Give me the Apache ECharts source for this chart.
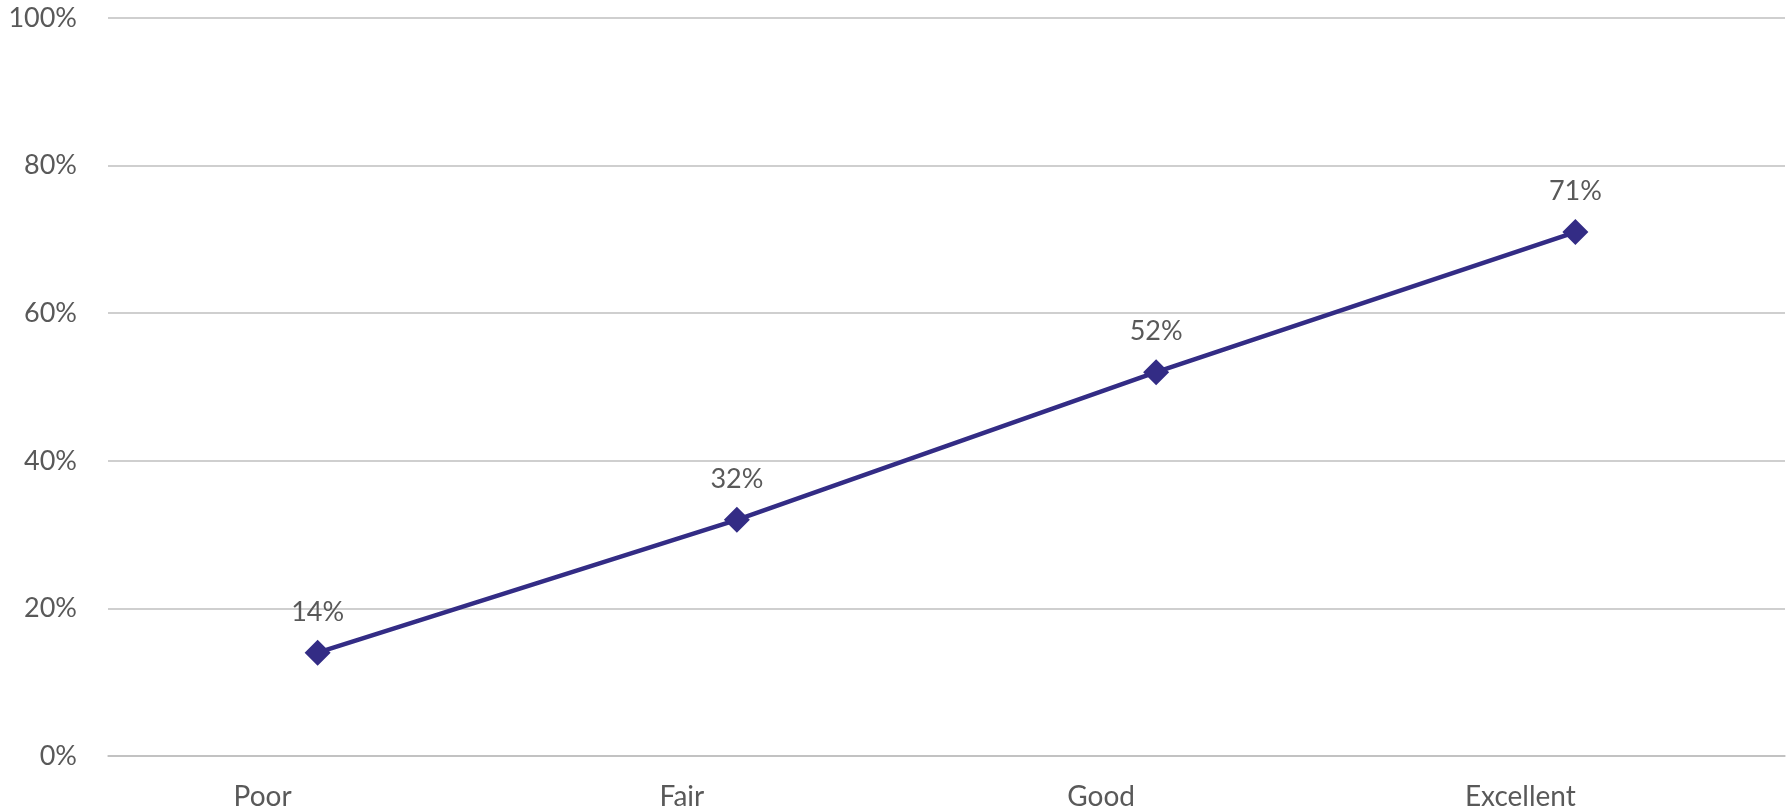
<!DOCTYPE html>
<html>
<head>
<meta charset="utf-8">
<script src="https://cdn.jsdelivr.net/npm/echarts@6/dist/echarts.min.js"></script>
<style>
html,body{margin:0;padding:0;background:#fff;}
#c{width:1788px;height:812px;}
</style>
</head>
<body>
<div id="c"></div>
<script>
const categories = ['Poor', 'Fair', 'Good', 'Excellent'];
const values = [14, 32, 52, 71];
const yTicks = { min: 0, max: 100, interval: 20 };

const chart = echarts.init(document.getElementById('c'), null, { renderer: 'canvas' });
const font = 'Lato, "Open Sans", sans-serif';
chart.setOption({
  animation: false,
  backgroundColor: '#ffffff',
  grid: { left: 108, right: 3, top: 18, bottom: 56, containLabel: false },
  xAxis: {
    type: 'category',
    data: categories,
    boundaryGap: true,
    axisTick: { show: false },
    axisLine: { show: true, lineStyle: { color: '#bfbfbf', width: 1.5 } },
    axisLabel: { color: '#595959', fontSize: 28, fontFamily: font, margin: 27, padding: [0, 110, 0, 0] }
  },
  yAxis: {
    type: 'value',
    min: yTicks.min, max: yTicks.max, interval: yTicks.interval,
    axisLine: { show: false },
    axisTick: { show: false },
    splitLine: { show: true, lineStyle: { color: '#bfbfbf', width: 1.5 } },
    axisLabel: { color: '#595959', fontSize: 27, fontFamily: font, margin: 31, formatter: '{value}%' }
  },
  series: [{
    type: 'line',
    data: values,
    symbol: 'diamond',
    symbolSize: 26,
    lineStyle: { color: '#332c85', width: 4.5 },
    itemStyle: { color: '#332c85' },
    label: {
      show: true, position: 'top', distance: 14,
      color: '#595959', fontSize: 27, fontFamily: font,
      formatter: p => p.value + '%'
    }
  }]
});
</script>
</body>
</html>
